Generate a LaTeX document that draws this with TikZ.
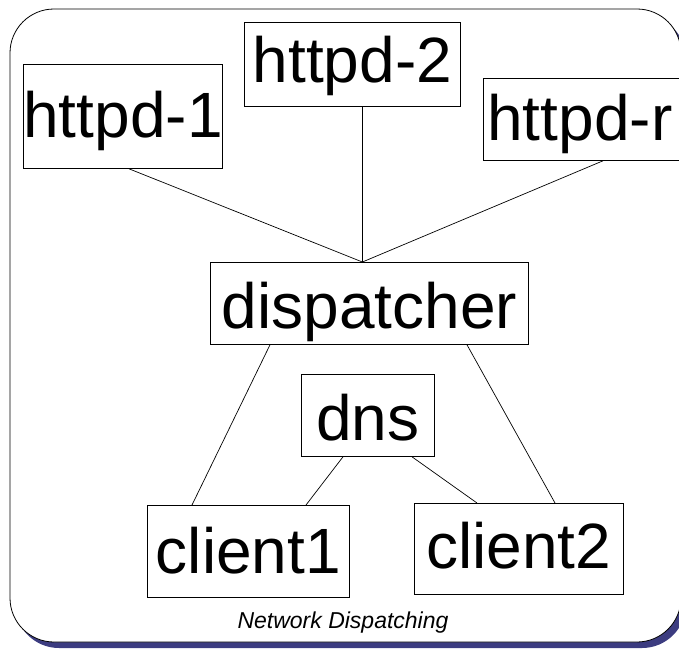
\documentclass[tikz,border=0pt]{standalone}
\usepackage{fontspec}
\setmainfont{Liberation Sans}
\definecolor{shadowblue}{RGB}{60,60,128}
\tikzset{
  box/.style={draw=black, line width=0.8pt, fill=white, inner xsep=0pt, inner ysep=0pt,
    anchor=north west, font=\fontsize{64}{70}\selectfont},
  link/.style={draw=black, line width=0.7pt},
  frame/.style={draw=black, line width=0.8pt, fill=white, rounded corners=44pt},
  shade/.style={draw=none, fill=shadowblue, rounded corners=44pt}
}
\begin{document}
\begin{tikzpicture}[x=1pt,y=-1pt]
\useasboundingbox (0,0) rectangle (679,648);
% frame with shadow
\path[shade] (15,15) rectangle (686,648);
\path[frame] (10,9) rectangle (681,642);
% boxes
\node[box, minimum width=194pt, text height=73pt, text depth=31pt] (h1) at (23,64) {httpd-1};
\node[box, minimum width=216pt, text height=60pt, text depth=24pt] (h2) at (244,22) {httpd-2};
\node[box, minimum width=212pt, align=left, text width=204pt, inner xsep=4pt, text height=62pt, text depth=20pt] (hn) at (483,78) {httpd-r};
\node[box, minimum width=318pt, text height=66pt, text depth=16pt] (disp) at (210,262) {dispatcher};
\node[box, minimum width=133pt, text height=66pt, text depth=16pt] (dns) at (301,374) {dns};
\node[box, minimum width=202pt, text height=68pt, text depth=24pt] (c1) at (147,505) {client1};
\node[box, minimum width=209pt, text height=65pt, text depth=26pt] (c2) at (414,503) {client2};
% caption
\node[anchor=base, inner sep=0pt, font=\fontsize{23}{26}\selectfont\itshape] (cap) at (343,628) {Network Dispatching};
% connectors
\coordinate (dtop) at ([xshift=-7pt]disp.north);
\draw[link] ([xshift=6pt]h1.south) -- (dtop);
\draw[link] ([xshift=10pt]h2.south) -- (dtop);
\draw[link] ([xshift=120pt]hn.south west) -- (dtop);
\draw[link] ([xshift=60pt]disp.south west) -- ([xshift=45pt]c1.north west);
\draw[link] ([xshift=257pt]disp.south west) -- ([xshift=141pt]c2.north west);
\draw[link] ([xshift=42pt]dns.south west) -- ([xshift=159pt]c1.north west);
\draw[link] ([xshift=111pt]dns.south west) -- ([xshift=63pt]c2.north west);
\end{tikzpicture}
\end{document}
